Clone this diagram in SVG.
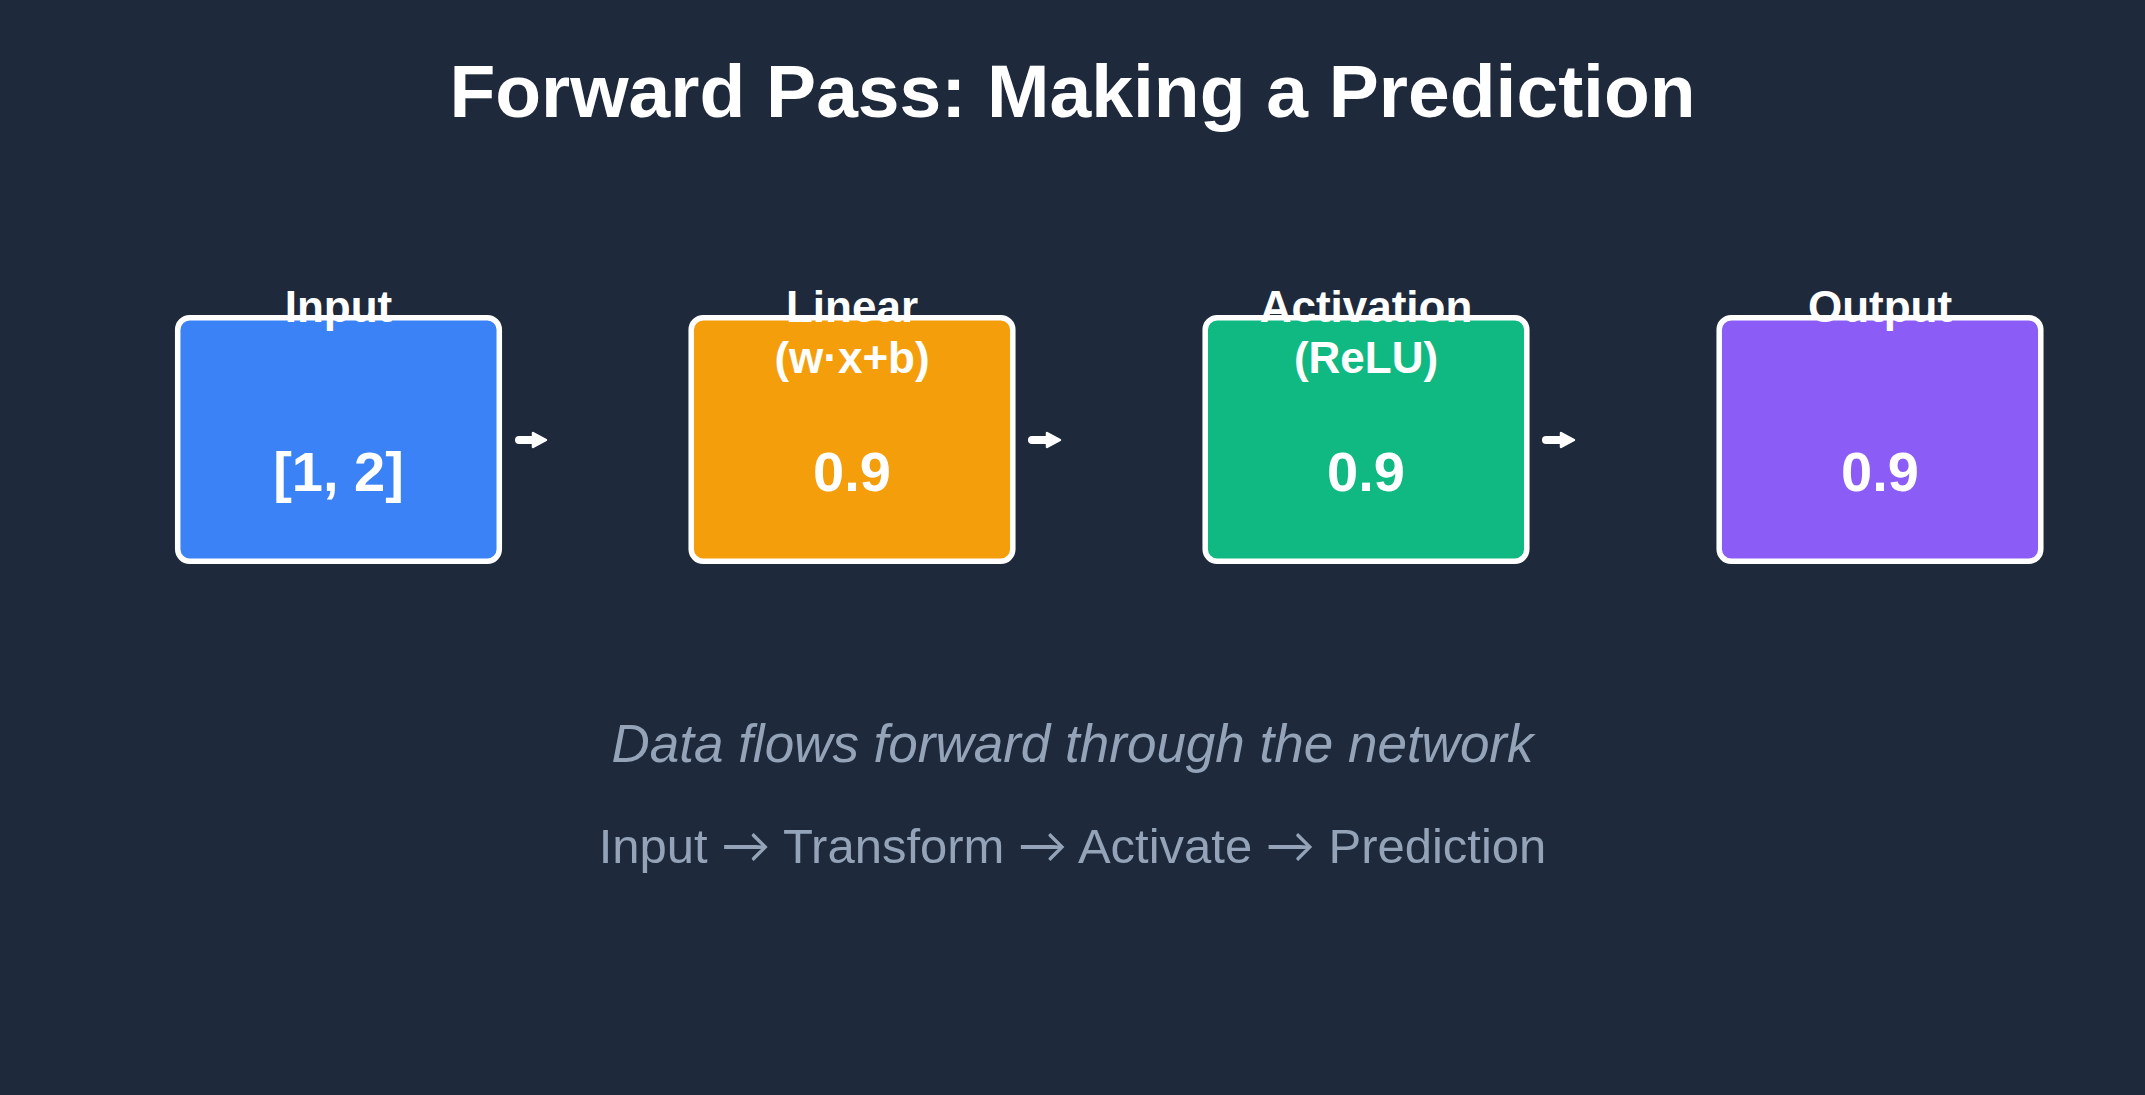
<svg xmlns="http://www.w3.org/2000/svg" width="2145" height="1095" viewBox="0 0 2145 1095">
  <defs>
    <style>
      .box { stroke: #ffffff; stroke-width: 5.5; }
      .label { font-family: "Liberation Sans", Arial, sans-serif; font-weight: bold; font-size: 44px; fill: #ffffff; text-anchor: middle; }
      .value { font-family: "Liberation Sans", Arial, sans-serif; font-weight: bold; font-size: 56px; fill: #ffffff; text-anchor: middle; }
      .title { font-family: "Liberation Sans", Arial, sans-serif; font-weight: bold; font-size: 75px; fill: #ffffff; text-anchor: middle; }
      .sub { font-family: "Liberation Sans", Arial, sans-serif; fill: #94a3b8; text-anchor: middle; }
      .arr { font-family: Lato, sans-serif; }
      .conn { stroke: #ffffff; stroke-width: 8; stroke-linecap: round; fill: none; }
    </style>
    <marker id="head" markerUnits="userSpaceOnUse" viewBox="0 0 20 20" markerWidth="20" markerHeight="20" refX="2" refY="10" orient="auto">
      <path d="M2,3 L15,10 L2,17 Z" fill="#ffffff" stroke="#ffffff" stroke-width="2.5" stroke-linejoin="round"/>
    </marker>
  </defs>
  <rect width="2145" height="1095" fill="#1e293b"/>

  <text class="title" x="1072.5" y="117">Forward Pass: Making a Prediction</text>

  <g id="connectors">
    <path class="conn" d="M519,440 L533,440" marker-end="url(#head)"/>
    <path class="conn" d="M1032,440 L1047,440" marker-end="url(#head)"/>
    <path class="conn" d="M1546,440 L1561,440" marker-end="url(#head)"/>
  </g>

  <g id="node-input">
    <rect class="box" x="177.7" y="317.7" width="321.6" height="243.5" rx="12" fill="#3b82f6"/>
    <text class="label" x="338.5" y="322">Input</text>
    <text class="value" x="338.5" y="491">[1, 2]</text>
  </g>
  <g id="node-linear">
    <rect class="box" x="691.2" y="317.7" width="321.6" height="243.5" rx="12" fill="#f59e0b"/>
    <text class="label" x="852" y="322">Linear</text>
    <text class="label" x="852" y="373">(w·x+b)</text>
    <text class="value" x="852" y="491">0.9</text>
  </g>
  <g id="node-activation">
    <rect class="box" x="1205.2" y="317.7" width="321.6" height="243.5" rx="12" fill="#10b981"/>
    <text class="label" x="1366" y="322">Activation</text>
    <text class="label" x="1366" y="373">(ReLU)</text>
    <text class="value" x="1366" y="491">0.9</text>
  </g>
  <g id="node-output">
    <rect class="box" x="1719.2" y="317.7" width="321.6" height="243.5" rx="12" fill="#8b5cf6"/>
    <text class="label" x="1880" y="322">Output</text>
    <text class="value" x="1880" y="491">0.9</text>
  </g>

  <text class="sub" x="1072.5" y="762" font-size="53" font-style="italic">Data flows forward through the network</text>
  <text class="sub" x="1072.5" y="863" font-size="49">Input <tspan class="arr">→</tspan> Transform <tspan class="arr">→</tspan> Activate <tspan class="arr">→</tspan> Prediction</text>
</svg>
